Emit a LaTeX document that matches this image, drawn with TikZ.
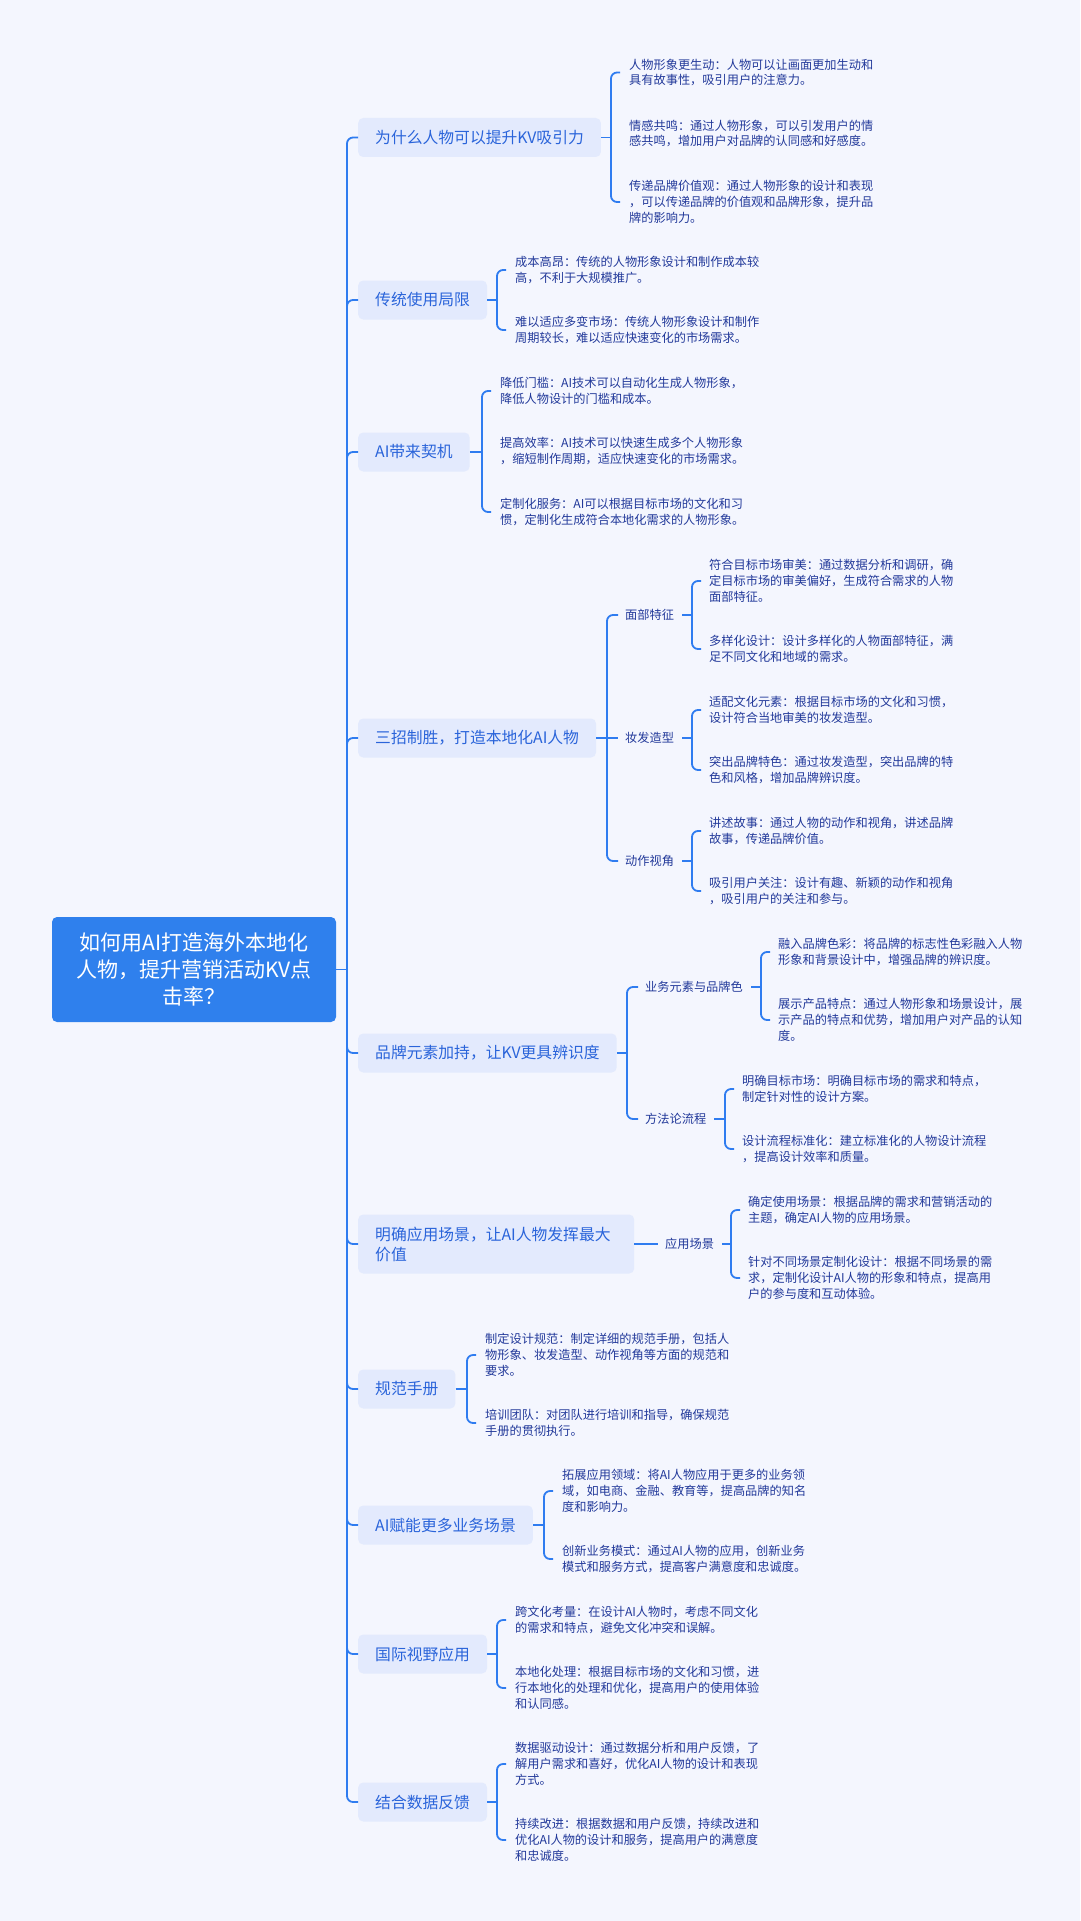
\documentclass[tikz,border=0pt]{standalone}
\usepackage{fontspec}
\setmainfont{Noto Sans CJK SC}
\usetikzlibrary{calc}
\definecolor{bg}{HTML}{F4F6FE}
\definecolor{boxfill}{HTML}{E3EAFD}
\definecolor{brtext}{HTML}{2A64DA}
\definecolor{leaftext}{HTML}{22399A}
\definecolor{linec}{HTML}{2F7CF0}
\definecolor{rootfill}{HTML}{2F80ED}
\begin{document}
\begin{tikzpicture}[x=1pt,y=-1pt,
 conn/.style={draw=linec,line width=1.8pt,rounded corners=6pt},
 rootbox/.style={fill=rootfill,rounded corners=5pt,text=white,align=center,font=\fontsize{21}{27}\selectfont,minimum width=284pt,minimum height=105pt,inner sep=0pt},
 brbox/.style={fill=boxfill,rounded corners=5pt,text=brtext,font=\fontsize{15.8}{20}\selectfont,anchor=west,inner xsep=17pt,inner ysep=0pt,minimum height=39pt,align=left},
 subtxt/.style={text=leaftext,font=\fontsize{12.2}{15.7}\selectfont,anchor=west,inner sep=0pt},
 leaf/.style={text=leaftext,font=\fontsize{12.2}{15.7}\selectfont,anchor=west,inner sep=0pt,align=left},
]
\fill[bg] (0,0) rectangle (1080,1921);
\useasboundingbox (0,0) rectangle (1080,1921);

% root
\node[rootbox] (R) at (194,969.5) {如何用AI打造海外本地化\\人物，提升营销活动KV点\\击率？};
\coordinate (T) at (347,969.5);
\draw[conn] (R.east) -- (T);

% main branches
\node[brbox] (B1) at (358,137.5) {为什么人物可以提升KV吸引力};
\node[brbox] (B2) at (358,300) {传统使用局限};
\node[brbox] (B3) at (358,452) {AI带来契机};
\node[brbox] (B4) at (358,738) {三招制胜，打造本地化AI人物};
\node[brbox] (B5) at (358,1053) {品牌元素加持，让KV更具辨识度};
\node[brbox,minimum height=59pt,text width=242pt] (B6) at (358,1244) {明确应用场景，让AI人物发挥最大\\价值};
\node[brbox] (B7) at (358,1389) {规范手册};
\node[brbox] (B8) at (358,1525) {AI赋能更多业务场景};
\node[brbox] (B9) at (358,1654) {国际视野应用};
\node[brbox] (B10) at (358,1802) {结合数据反馈};

\foreach \b in {B1,B2,B3,B4,B5,B6,B7,B8,B9,B10}{
  \draw[conn] (T) |- (\b.west);
}

% ---------- B1
\coordinate (J1) at (611,137.5);
\node[leaf] (L1a) at (629,72.5) {人物形象更生动：人物可以让画面更加生动和\\具有故事性，吸引用户的注意力。};
\node[leaf] (L1b) at (629,133.5) {情感共鸣：通过人物形象，可以引发用户的情\\感共鸣，增加用户对品牌的认同感和好感度。};
\node[leaf] (L1c) at (629,202) {传递品牌价值观：通过人物形象的设计和表现\\，可以传递品牌的价值观和品牌形象，提升品\\牌的影响力。};
\draw[conn] (B1.east) -- (J1);
\draw[conn] ([xshift=-9pt]L1a.west) -| (J1) |- ([xshift=-9pt]L1c.west);

% ---------- B2
\coordinate (J2) at (497,300);
\node[leaf] (L2a) at (515,270) {成本高昂：传统的人物形象设计和制作成本较\\高，不利于大规模推广。};
\node[leaf] (L2b) at (515,330) {难以适应多变市场：传统人物形象设计和制作\\周期较长，难以适应快速变化的市场需求。};
\draw[conn] (B2.east) -- (J2);
\draw[conn] ([xshift=-9pt]L2a.west) -| (J2) |- ([xshift=-9pt]L2b.west);

% ---------- B3
\coordinate (J3) at (482,452);
\node[leaf] (L3a) at (500,391) {降低门槛：AI技术可以自动化生成人物形象，\\降低人物设计的门槛和成本。};
\node[leaf] (L3b) at (500,451) {提高效率：AI技术可以快速生成多个人物形象\\，缩短制作周期，适应快速变化的市场需求。};
\node[leaf] (L3c) at (500,512) {定制化服务：AI可以根据目标市场的文化和习\\惯，定制化生成符合本地化需求的人物形象。};
\draw[conn] (B3.east) -- (J3);
\draw[conn] ([xshift=-9pt]L3a.west) -| (J3) |- ([xshift=-9pt]L3c.west);

% ---------- B4
\coordinate (J4) at (607,738);
\node[subtxt] (S4a) at (625,615) {面部特征};
\node[subtxt] (S4b) at (625,738) {妆发造型};
\node[subtxt] (S4c) at (625,861) {动作视角};
\draw[conn] (B4.east) -- (J4);
\draw[conn] ([xshift=-7pt]S4a.west) -| (J4) |- ([xshift=-7pt]S4c.west);
\draw[conn] (J4) -- ([xshift=-7pt]S4b.west);

\coordinate (K4a) at (692,615);
\node[leaf] (L4a1) at (709,581) {符合目标市场审美：通过数据分析和调研，确\\定目标市场的审美偏好，生成符合需求的人物\\面部特征。};
\node[leaf] (L4a2) at (709,649) {多样化设计：设计多样化的人物面部特征，满\\足不同文化和地域的需求。};
\draw[conn] ([xshift=8pt]S4a.east) -- (K4a);
\draw[conn] ([xshift=-8pt]L4a1.west) -| (K4a) |- ([xshift=-8pt]L4a2.west);

\coordinate (K4b) at (692,738);
\node[leaf] (L4b1) at (709,710) {适配文化元素：根据目标市场的文化和习惯，\\设计符合当地审美的妆发造型。};
\node[leaf] (L4b2) at (709,770) {突出品牌特色：通过妆发造型，突出品牌的特\\色和风格，增加品牌辨识度。};
\draw[conn] ([xshift=8pt]S4b.east) -- (K4b);
\draw[conn] ([xshift=-8pt]L4b1.west) -| (K4b) |- ([xshift=-8pt]L4b2.west);

\coordinate (K4c) at (692,861);
\node[leaf] (L4c1) at (709,831) {讲述故事：通过人物的动作和视角，讲述品牌\\故事，传递品牌价值。};
\node[leaf] (L4c2) at (709,891) {吸引用户关注：设计有趣、新颖的动作和视角\\，吸引用户的关注和参与。};
\draw[conn] ([xshift=8pt]S4c.east) -- (K4c);
\draw[conn] ([xshift=-8pt]L4c1.west) -| (K4c) |- ([xshift=-8pt]L4c2.west);

% ---------- B5
\coordinate (J5) at (627,1053);
\node[subtxt] (S5a) at (645,987) {业务元素与品牌色};
\node[subtxt] (S5b) at (645,1119) {方法论流程};
\draw[conn] (B5.east) -- (J5);
\draw[conn] ([xshift=-7pt]S5a.west) -| (J5) |- ([xshift=-7pt]S5b.west);

\coordinate (K5a) at (761,987);
\node[leaf] (L5a1) at (778,952) {融入品牌色彩：将品牌的标志性色彩融入人物\\形象和背景设计中，增强品牌的辨识度。};
\node[leaf] (L5a2) at (778,1020) {展示产品特点：通过人物形象和场景设计，展\\示产品的特点和优势，增加用户对产品的认知\\度。};
\draw[conn] ([xshift=8pt]S5a.east) -- (K5a);
\draw[conn] ([xshift=-8pt]L5a1.west) -| (K5a) |- ([xshift=-8pt]L5a2.west);

\coordinate (K5b) at (725,1119);
\node[leaf] (L5b1) at (742,1089) {明确目标市场：明确目标市场的需求和特点，\\制定针对性的设计方案。};
\node[leaf] (L5b2) at (742,1149) {设计流程标准化：建立标准化的人物设计流程\\，提高设计效率和质量。};
\draw[conn] ([xshift=8pt]S5b.east) -- (K5b);
\draw[conn] ([xshift=-8pt]L5b1.west) -| (K5b) |- ([xshift=-8pt]L5b2.west);

% ---------- B6
\node[subtxt] (S6) at (665,1244) {应用场景};
\draw[conn] (B6.east) -- ([xshift=-7pt]S6.west);
\coordinate (K6) at (731,1244);
\node[leaf] (L6a) at (748,1210) {确定使用场景：根据品牌的需求和营销活动的\\主题，确定AI人物的应用场景。};
\node[leaf] (L6b) at (748,1278) {针对不同场景定制化设计：根据不同场景的需\\求，定制化设计AI人物的形象和特点，提高用\\户的参与度和互动体验。};
\draw[conn] ([xshift=8pt]S6.east) -- (K6);
\draw[conn] ([xshift=-8pt]L6a.west) -| (K6) |- ([xshift=-8pt]L6b.west);

% ---------- B7
\coordinate (J7) at (467,1389);
\node[leaf] (L7a) at (485,1355) {制定设计规范：制定详细的规范手册，包括人\\物形象、妆发造型、动作视角等方面的规范和\\要求。};
\node[leaf] (L7b) at (485,1423) {培训团队：对团队进行培训和指导，确保规范\\手册的贯彻执行。};
\draw[conn] (B7.east) -- (J7);
\draw[conn] ([xshift=-9pt]L7a.west) -| (J7) |- ([xshift=-9pt]L7b.west);

% ---------- B8
\coordinate (J8) at (544,1525);
\node[leaf] (L8a) at (562,1491) {拓展应用领域：将AI人物应用于更多的业务领\\域，如电商、金融、教育等，提高品牌的知名\\度和影响力。};
\node[leaf] (L8b) at (562,1559) {创新业务模式：通过AI人物的应用，创新业务\\模式和服务方式，提高客户满意度和忠诚度。};
\draw[conn] (B8.east) -- (J8);
\draw[conn] ([xshift=-9pt]L8a.west) -| (J8) |- ([xshift=-9pt]L8b.west);

% ---------- B9
\coordinate (J9) at (497,1654);
\node[leaf] (L9a) at (515,1620) {跨文化考量：在设计AI人物时，考虑不同文化\\的需求和特点，避免文化冲突和误解。};
\node[leaf] (L9b) at (515,1688) {本地化处理：根据目标市场的文化和习惯，进\\行本地化的处理和优化，提高用户的使用体验\\和认同感。};
\draw[conn] (B9.east) -- (J9);
\draw[conn] ([xshift=-9pt]L9a.west) -| (J9) |- ([xshift=-9pt]L9b.west);

% ---------- B10
\coordinate (J10) at (497,1802);
\node[leaf] (L10a) at (515,1764) {数据驱动设计：通过数据分析和用户反馈，了\\解用户需求和喜好，优化AI人物的设计和表现\\方式。};
\node[leaf] (L10b) at (515,1840) {持续改进：根据数据和用户反馈，持续改进和\\优化AI人物的设计和服务，提高用户的满意度\\和忠诚度。};
\draw[conn] (B10.east) -- (J10);
\draw[conn] ([xshift=-9pt]L10a.west) -| (J10) |- ([xshift=-9pt]L10b.west);

\end{tikzpicture}
\end{document}
